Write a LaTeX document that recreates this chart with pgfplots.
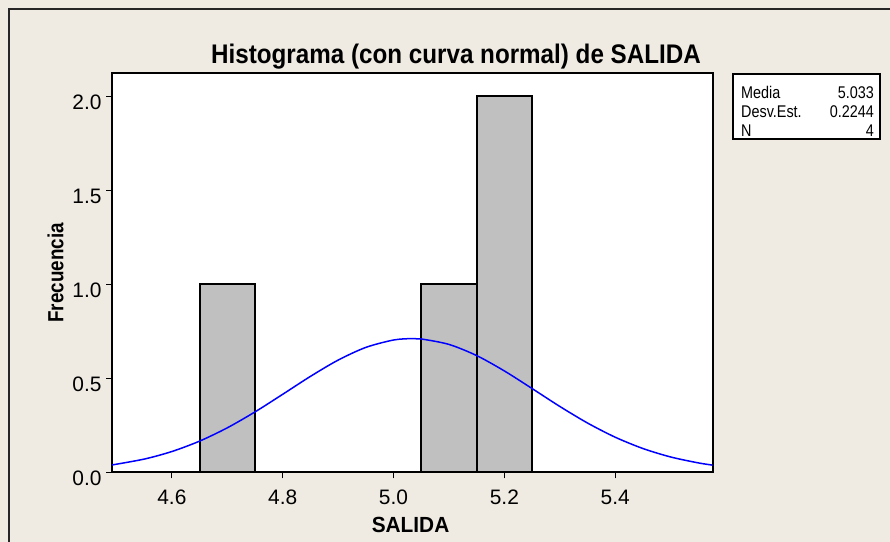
\documentclass[border=0pt]{standalone}
\usepackage{pgfplots}
\pgfplotsset{compat=1.18}
\usepackage{fontspec}
\setmainfont{Liberation Sans}
\definecolor{bgbeige}{HTML}{EFEBE2}
\definecolor{barfill}{HTML}{C0C0C0}
\begin{document}
\begin{tikzpicture}[x=1bp,y=1bp]
\fill[bgbeige] (0,0) rectangle (890,542);
\draw[line width=1.4bp, black!85] (9,0) -- (9,533) -- (890,533);
\begin{axis}[
  at={(112bp,69.7bp)}, anchor=south west,
  scale only axis, width=600.7bp, height=399bp,
  xmin=4.492, xmax=5.576, ymin=0, ymax=2.122,
  axis background/.style={fill=white},
  axis line style={line width=1.8bp},
  tick pos=left, tick align=outside,
  major tick length=6bp,
  tick style={line width=1.2bp, black},
  xtick={4.6,4.8,5.0,5.2,5.4},
  ytick={0,0.5,1.0,1.5,2.0},
  /pgf/number format/.cd, fixed, fixed zerofill, precision=1, assume math mode=true,
  /pgfplots/.cd,
  ticklabel style={font=\fontsize{21}{21}\selectfont},
  xticklabel style={yshift=-8bp},
  yticklabel style={xshift=-1bp, yshift=-6bp},
  xlabel={\scalebox{0.95}[1]{\bfseries SALIDA}},
  xlabel style={font=\fontsize{22}{22}\selectfont, at={(axis description cs:0.497,-0.132)}, anchor=center},
  ylabel={\scalebox{0.86}[1]{\bfseries Frecuencia}},
  ylabel style={font=\fontsize{22}{22}\selectfont, at={(axis description cs:-0.094,0.5)}, anchor=center, rotate=0},
  clip=true,
]
\addplot[ybar interval, fill=barfill, draw=black, line width=2bp] coordinates {
  (4.65,1) (4.75,0) (4.85,0) (4.95,0) (5.05,1) (5.15,2) (5.25,2)
};
\addplot[blue, line width=1.5bp, smooth, no markers] coordinates {
  (4.49,0.03806) (4.55,0.07014) (4.60,0.11050) (4.65,0.16573) (4.70,0.23647)
  (4.75,0.32106) (4.80,0.41479) (4.85,0.50993) (4.90,0.59658) (4.95,0.66412)
  (5.00,0.70349) (5.033,0.71113) (5.05,0.70909) (5.10,0.68013) (5.15,0.62075)
  (5.20,0.53909) (5.25,0.44553) (5.30,0.35038) (5.35,0.26219) (5.40,0.18669)
  (5.45,0.12651) (5.50,0.08155) (5.55,0.05002) (5.58,0.03645)
};
\end{axis}
\node[font=\fontsize{27}{27}\selectfont\bfseries] at (456,485) {\scalebox{0.9}[1]{Histograma (con curva normal) de SALIDA}};
\draw[fill=white, line width=1.6bp] (732.7,468) rectangle (880,403);
\begin{scope}[every node/.style={font=\fontsize{17}{17}\selectfont, inner sep=0pt}]
\node[anchor=base west] at (741,443) {\scalebox{0.85}[1]{Media}};
\node[anchor=base east] at (874,443) {\scalebox{0.85}[1]{5.033}};
\node[anchor=base west] at (741,424) {\scalebox{0.85}[1]{Desv.Est.}};
\node[anchor=base east] at (874,424) {\scalebox{0.85}[1]{0.2244}};
\node[anchor=base west] at (741,405) {\scalebox{0.85}[1]{N}};
\node[anchor=base east] at (874,405) {\scalebox{0.85}[1]{4}};
\end{scope}
\pgfresetboundingbox
\useasboundingbox (0,0) rectangle (890,542);
\end{tikzpicture}
\end{document}
